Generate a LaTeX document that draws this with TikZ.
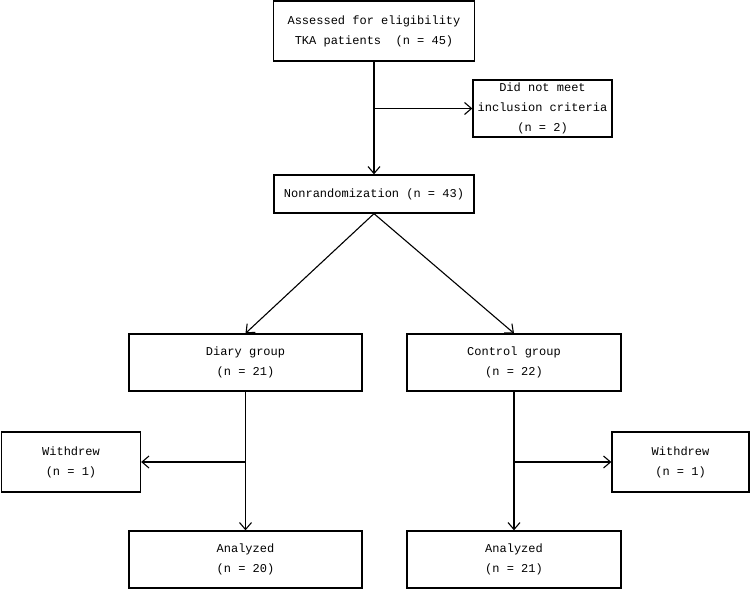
\documentclass[tikz,border=0pt]{standalone}
\usepackage{fontspec}
\setmonofont{Liberation Mono}
\usetikzlibrary{arrows.meta}

\begin{document}
\begin{tikzpicture}[x=1pt,y=-1pt,>={Straight Barb[length=7pt,width=12pt]},
  box/.style={draw, line width=1.3pt, align=center, inner sep=0pt,
    font=\ttfamily\fontsize{12}{20}\selectfont},
  link/.style={->, line width=1.1pt}]
\useasboundingbox (0,0) rectangle (750,589);
% boxes
\node[box, minimum width=201, minimum height=60] (assess) at (374,31) {Assessed for eligibility\\TKA patients \ (n = 45)};
\node[box, minimum width=139, minimum height=57] (excl) at (542.5,108.5) {Did not meet\\inclusion criteria\\(n = 2)};
\node[box, minimum width=200, minimum height=38] (nonrand) at (374,194) {Nonrandomization (n = 43)};
\node[box, minimum width=233, minimum height=57] (diary) at (245.5,362.5) {Diary group\\(n = 21)};
\node[box, minimum width=214, minimum height=57] (control) at (514,362.5) {Control group\\(n = 22)};
\node[box, minimum width=139, minimum height=60] (wdl) at (71,462) {Withdrew\\(n = 1)};
\node[box, minimum width=137, minimum height=60] (wdr) at (680.5,462) {Withdrew\\(n = 1)};
\node[box, minimum width=233, minimum height=57] (anl) at (245.5,559.5) {Analyzed\\(n = 20)};
\node[box, minimum width=214, minimum height=57] (anr) at (514,559.5) {Analyzed\\(n = 21)};
% connectors
\coordinate (b0) at (assess.south |- excl);
\draw[link] (assess) -- (nonrand);
\draw[link] (b0) -- (excl);
\draw[link] (nonrand.south) -- (diary.north);
\draw[link] (nonrand.south) -- (control.north);
\coordinate (bl) at (diary.south |- wdl);
\coordinate (br) at (control.south |- wdr);
\draw[link] (diary) -- (anl);
\draw[link] (bl) -- (wdl);
\draw[link] (control) -- (anr);
\draw[link] (br) -- (wdr);
\end{tikzpicture}
\end{document}
